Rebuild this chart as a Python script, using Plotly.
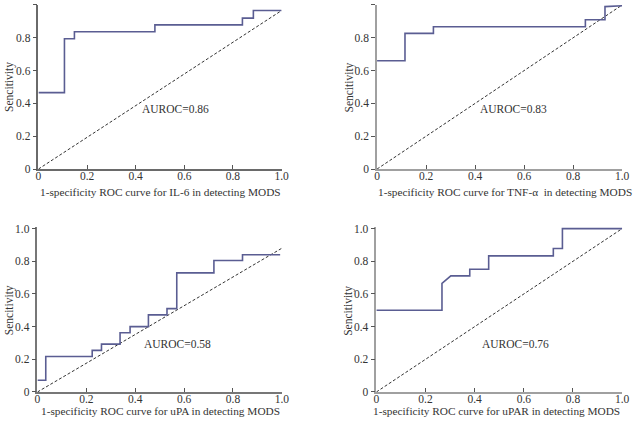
import plotly.graph_objects as go

W, H = 638, 427

# ROC data (1-specificity, sensitivity), step curves
il6_x = [0, 0.107, 0.107, 0.148, 0.148, 0.479, 0.479, 0.839, 0.839, 0.884, 0.884, 1.0]
il6_y = [0.466, 0.466, 0.794, 0.794, 0.837, 0.837, 0.879, 0.879, 0.92, 0.92, 0.966, 0.966]
il6_diag_x = [0, 1.0]
il6_diag_y = [0, 0.966]

tnf_x = [0, 0.114, 0.114, 0.23, 0.23, 0.85, 0.85, 0.93, 0.93, 1.0]
tnf_y = [0.66, 0.66, 0.827, 0.827, 0.867, 0.867, 0.91, 0.91, 0.99, 0.995]
tnf_diag_x = [0, 1.0]
tnf_diag_y = [0, 1.0]

upa_x = [0, 0.034, 0.034, 0.224, 0.224, 0.262, 0.262, 0.338, 0.338, 0.379, 0.379,
         0.454, 0.454, 0.53, 0.53, 0.57, 0.57, 0.722, 0.722, 0.839, 0.839, 0.993]
upa_y = [0.072, 0.072, 0.217, 0.217, 0.255, 0.255, 0.293, 0.293, 0.363, 0.363, 0.40,
         0.40, 0.472, 0.472, 0.51, 0.51, 0.729, 0.729, 0.805, 0.805, 0.84, 0.84]
upa_diag_x = [0, 1.0]
upa_diag_y = [0, 0.88]

upar_x = [0, 0.267, 0.267, 0.303, 0.38, 0.38, 0.457, 0.457, 0.72, 0.72, 0.757, 0.757, 1.0]
upar_y = [0.5, 0.5, 0.665, 0.711, 0.711, 0.751, 0.751, 0.833, 0.833, 0.878, 0.878, 1.0, 1.0]
upar_diag_x = [0, 1.0]
upar_diag_y = [0, 1.0]

auroc_labels = ["AUROC=0.86", "AUROC=0.83", "AUROC=0.58", "AUROC=0.76"]
auroc_pos = [(0.563, 0.369), (0.555, 0.367), (0.572, 0.293), (0.567, 0.293)]
x_titles = [
    "1-specificity ROC curve for IL-6 in detecting MODS",
    "1-specificity ROC curve for TNF-\u03b1  in detecting MODS",
    "1-specificity ROC curve for uPA in detecting MODS",
    "1-specificity ROC curve for uPAR in detecting MODS",
]
y_title = "Sencitivity"
tick_vals = [0, 0.2, 0.4, 0.6, 0.8, 1.0]
tick_text = ["0", "0.2", "0.4", "0.6", "0.8", "1.0"]

curves = [(il6_x, il6_y, il6_diag_x, il6_diag_y),
          (tnf_x, tnf_y, tnf_diag_x, tnf_diag_y),
          (upa_x, upa_y, upa_diag_x, upa_diag_y),
          (upar_x, upar_y, upar_diag_x, upar_diag_y)]

# pixel geometry: (x0px, x1px, y0px for value 0, y1px for value 1.0, yrange top)
geom = [
    (36.0, 283.0, 169.0, 1.0, 1.0),
    (380.0, 629.0, 169.0, 1.0, 1.0),
    (35.0, 283.3, 397.3, 230.0, 1.01),
    (379.3, 629.0, 397.3, 230.0, 1.01),
]
spine_colors = ["#6a6a6a", "#a0a0a0", "#777777", "#a0a0a0"]
title_pos = [(160, 192), (510, 192), (160, 417), (501, 417)]
ytitle_x = [6, 352, 6, 351]

SERIF = "Liberation Serif, Times New Roman, serif"
CURVE = "#5a5d92"

fig = go.Figure()
layout = dict(
    width=W, height=H,
    margin=dict(l=0, r=0, t=0, b=0),
    paper_bgcolor="white", plot_bgcolor="white",
    showlegend=False,
    font=dict(family=SERIF, size=11.5, color="#333333"),
)
annotations = []
for i, (cx, cy, dx, dy) in enumerate(curves):
    n = i + 1
    xa = "x" if n == 1 else f"x{n}"
    ya = "y" if n == 1 else f"y{n}"
    fig.add_trace(go.Scatter(x=dx, y=dy, mode="lines", xaxis=xa, yaxis=ya,
                             line=dict(color="#333333", width=1, dash="3px,2px"),
                             hoverinfo="skip"))
    fig.add_trace(go.Scatter(x=cx, y=cy, mode="lines", xaxis=xa, yaxis=ya,
                             line=dict(color=CURVE, width=1.6)))
    x0, x1, y0, y1, ytop = geom[i]
    per = y0 - y1
    ytop_px = y0 - per * ytop
    xd = [x0 / W, x1 / W]
    yd = [(H - y0) / H, min(1.0, (H - ytop_px) / H)]
    sc = spine_colors[i]
    layout["xaxis" if n == 1 else f"xaxis{n}"] = dict(
        domain=xd, range=[0, 1], anchor=ya, showgrid=False, zeroline=False,
        showline=True, linecolor=sc, linewidth=1.5,
        ticks="inside", ticklen=4, tickcolor="#555555", tickwidth=1,
        tickvals=tick_vals, ticktext=tick_text, fixedrange=True,
        ticklabelstandoff=-5,
        tickfont=dict(family=SERIF, size=11.5, color="#333333"),
    )
    layout["yaxis" if n == 1 else f"yaxis{n}"] = dict(
        domain=yd, range=[0, ytop], anchor=xa, showgrid=False, zeroline=False,
        showline=True, linecolor=sc, linewidth=1.5,
        ticks="outside", ticklen=4, tickcolor="#555555", tickwidth=1,
        tickvals=tick_vals, ticktext=tick_text, fixedrange=True,
        tickfont=dict(family=SERIF, size=11.5, color="#333333"),
    )
    ax, ay = auroc_pos[i]
    annotations.append(dict(text=auroc_labels[i], x=ax, y=ay, xref=xa, yref=ya,
                            showarrow=False, xanchor="center", yanchor="middle",
                            font=dict(family=SERIF, size=11.5, color="#333333")))
    tx, ty = title_pos[i]
    annotations.append(dict(text=x_titles[i], x=tx / W, y=1 - ty / H, xref="paper", yref="paper",
                            showarrow=False, xanchor="center", yanchor="middle",
                            font=dict(family=SERIF, size=11.3, color="#333333")))
    annotations.append(dict(text=y_title, x=ytitle_x[i] / W, y=1 - ((y0 + y1) / 2) / H,
                            xref="paper", yref="paper", textangle=-90,
                            showarrow=False, xanchor="center", yanchor="middle",
                            font=dict(family=SERIF, size=11.5, color="#333333")))

layout["annotations"] = annotations
fig.update_layout(**layout)
fig.write_html("out.html", config={"displayModeBar": False},
               post_script="document.body.style.margin='0';document.body.style.overflow='hidden';")
